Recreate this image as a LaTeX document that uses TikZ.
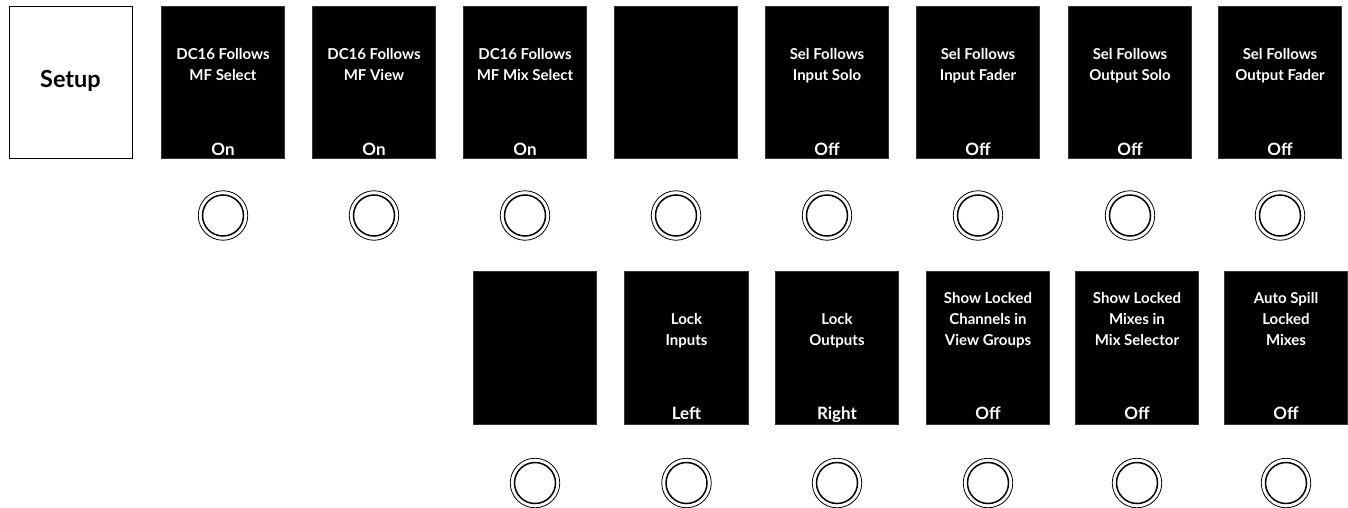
\documentclass[tikz,border=0pt]{standalone}
\usepackage{fontspec}
\setmainfont{Lato}[BoldFont={Lato Bold}]
\begin{document}
\begin{tikzpicture}[x=1pt,y=-1pt,
  screen/.style={fill=black,draw=black!80,line width=0.6pt,minimum width=123.5pt,minimum height=152.5pt,inner sep=0pt,outer sep=0pt},
  setupbox/.style={fill=white,draw=black,line width=0.8pt,minimum width=123pt,minimum height=152pt,inner sep=0pt},
  title/.style={text=white,font=\bfseries\fontsize{15}{21}\selectfont,align=center,anchor=base},
  val/.style={text=white,font=\bfseries\fontsize{17}{20}\selectfont,anchor=base},
  knobo/.style={circle,draw=black,line width=0.8pt,minimum size=49.5pt,inner sep=0pt},
  knobi/.style={circle,draw=black,line width=1.5pt,minimum size=41pt,inner sep=0pt}]
\useasboundingbox (0,0) rectangle (1348,508);
\node[setupbox] (setup) at (70.5,82) {};
\node[font=\bfseries\fontsize{23.5}{26}\selectfont,anchor=base] (setuptxt) at (70.5,87.5) {Setup};
% row 1
\foreach \i/\x/\t/\v in {1/223/{DC16 Follows\\MF Select}/On,
  2/374/{DC16 Follows\\MF View}/On,
  3/525/{DC16 Follows\\MF Mix Select}/On,
  4/676//,
  5/827/{Sel Follows\\Input Solo}/Off,
  6/978/{Sel Follows\\Input Fader}/Off,
  7/1130/{Sel Follows\\Output Solo}/Off,
  8/1280/{Sel Follows\\Output Fader}/Off}{
  \node[screen] (a\i) at (\x,82.5) {};
  \node[title] (at\i) at (\x,80.5) {\t};
  \node[val] (av\i) at (\x,155) {\v};
  \node[knobo] (ko\i) at (\x,215.5) {};
  \node[knobi] (ki\i) at (\x,215.5) {};
}
% row 2
\foreach \i/\x/\t/\v in {1/535//,
  2/686.5/{Lock\\Inputs}/Left,
  3/837/{Lock\\Outputs}/Right,
  4/988/{Show Locked\\Channels in\\View Groups}/Off,
  5/1137/{Show Locked\\Mixes in\\Mix Selector}/Off,
  6/1286/{Auto Spill\\Locked\\Mixes}/Off}{
  \node[screen] (b\i) at (\x,348) {};
  \node[title] (bt\i) at (\x,345.5) {\t};
  \node[val] (bv\i) at (\x,419.5) {\v};
  \node[knobo] (lo\i) at (\x,483) {};
  \node[knobi] (li\i) at (\x,483) {};
}
\end{tikzpicture}
\end{document}
